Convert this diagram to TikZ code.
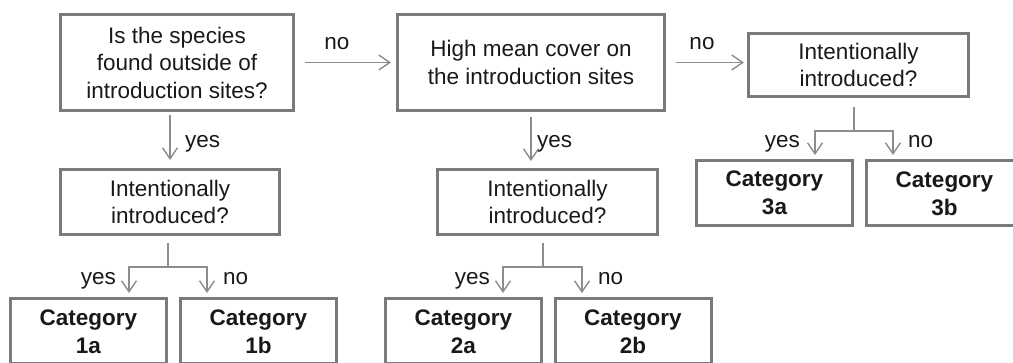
\documentclass[tikz,border=0pt]{standalone}
\usepackage{fontspec}
\setmainfont{Liberation Sans}
\usetikzlibrary{arrows.meta}

\begin{document}
\begin{tikzpicture}[x=1pt, y=-1pt,
		box/.style={draw=black!52, line width=3pt, align=center, inner sep=0pt, text=black!90, font=\fontsize{22.5}{27.5}\selectfont},
		catbox/.style={box, font=\fontsize{22.5}{28}\selectfont\bfseries, minimum width=156pt, minimum height=65pt},
		conn/.style={draw=black!45, line width=1.4pt},
		arr/.style={conn, -{Straight Barb[length=11pt, width=15pt]}},
		lbl/.style={inner sep=0pt, text=black!90, font=\fontsize{22.5}{27}\selectfont}]
		%%%%% START %%%%%
		
		\useasboundingbox (0,0) rectangle (1013,363);
		\clip (0,0) rectangle (1013,363);
		
		\node[box, minimum width=233pt, minimum height=96pt] (q1) at (177,62.5) {Is the species\\found outside of\\introduction sites?};
		\node[box, minimum width=267pt, minimum height=96pt] (q2) at (531,62.5) {High mean cover on\\the introduction sites};
		\node[box, minimum width=220pt, minimum height=63pt] (q3) at (858.5,65) {Intentionally\\introduced?};
		
		\node[box, minimum width=219pt, minimum height=65pt] (q4) at (170,202) {Intentionally\\introduced?};
		\node[box, minimum width=220pt, minimum height=65pt] (q5) at (547.5,202) {Intentionally\\introduced?};
		
		\node[catbox] (c1a) at (88.5,331.5) {Category\\1a};
		\node[catbox] (c1b) at (258.5,331.5) {Category\\1b};
		\node[catbox] (c2a) at (463.5,331.5) {Category\\2a};
		\node[catbox] (c2b) at (633,331.5) {Category\\2b};
		\node[catbox] (c3a) at (774.5,193) {Category\\3a};
		\node[catbox] (c3b) at (944.5,193.5) {Category\\3b};
		
		\draw[arr] ([xshift=10pt]q1.east) -- ([xshift=-5pt]q2.west);
		\draw[arr] ([xshift=10pt]q2.east) -- ([xshift=-3pt]q3.west |- q2.east);
		\draw[arr] ([yshift=-3.5pt]q4.north |- q1.south) -- ([yshift=8pt]q4.north);
		\draw[arr] ([yshift=-5pt]q2.south) -- ([yshift=7pt]q2.south |- q5.north);
		
		\coordinate (f1) at (168,267);
		\coordinate (t1a) at (129,293);
		\coordinate (t1b) at (207,293);
		\draw[conn] ([yshift=-7pt]q4.south -| f1) -- (f1);
		\draw[arr] (f1) -| (t1a);
		\draw[arr] (f1) -| (t1b);
		
		\coordinate (f2) at (543,267);
		\coordinate (t2a) at (503,293);
		\coordinate (t2b) at (582,293);
		\draw[conn] ([yshift=-7pt]q5.south -| f2) -- (f2);
		\draw[arr] (f2) -| (t2a);
		\draw[arr] (f2) -| (t2b);
		
		\coordinate (f3) at (854,131);
		\coordinate (t3a) at (815,155);
		\coordinate (t3b) at (893,155);
		\draw[conn] ([yshift=-9pt]q3.south -| f3) -- (f3);
		\draw[arr] (f3) -| (t3a);
		\draw[arr] (f3) -| (t3b);
		
		\node[lbl, anchor=base] (no1) at (337,50) {no};
		\node[lbl, anchor=base] (no2) at (702,50) {no};
		\node[lbl, anchor=base west] (yes1) at (185,148) {yes};
		\node[lbl, anchor=base west] (yes2) at (537,148) {yes};
		\node[lbl, anchor=base east] (yes3) at (116,285) {yes};
		\node[lbl, anchor=base west] (no3) at (223,285) {no};
		\node[lbl, anchor=base east] (yes4) at (490,285) {yes};
		\node[lbl, anchor=base west] (no4) at (598,285) {no};
		\node[lbl, anchor=base east] (yes5) at (800,148) {yes};
		\node[lbl, anchor=base west] (no5) at (908,148) {no};
		
		%%%%% END %%%%%
	\end{tikzpicture}
\end{document}
